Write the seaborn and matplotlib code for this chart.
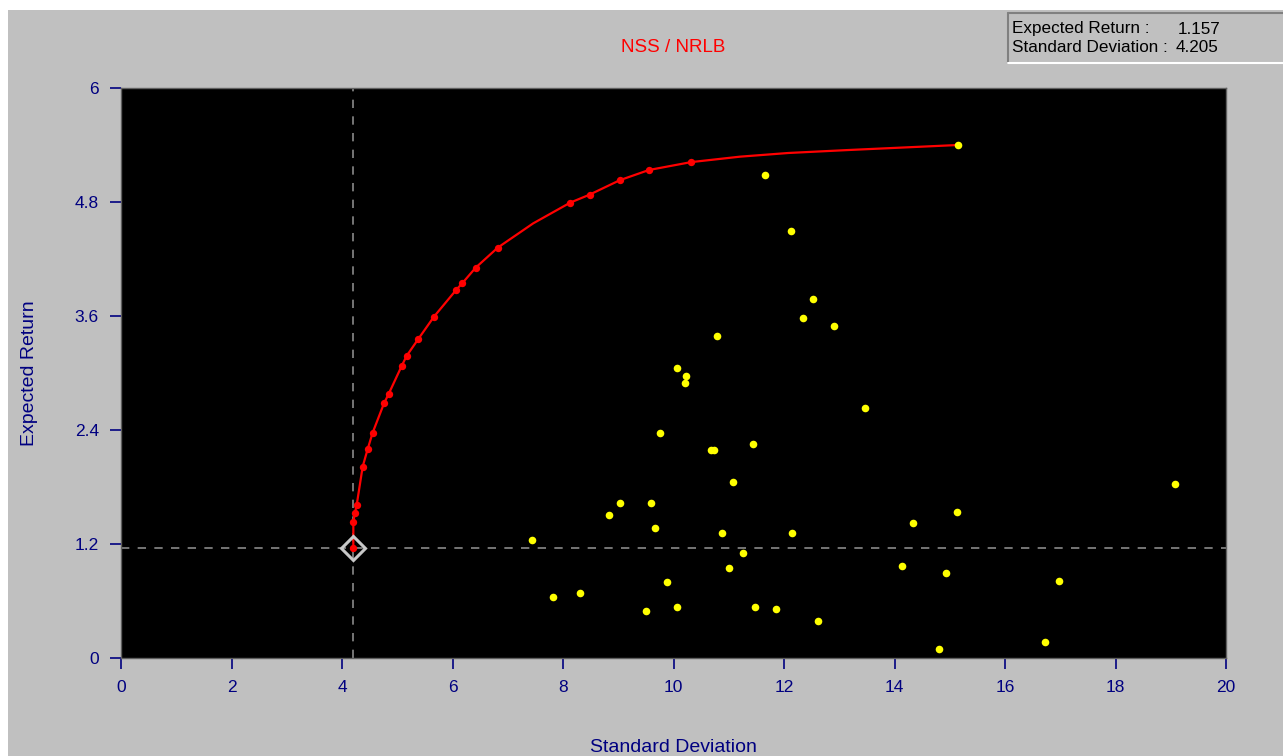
import matplotlib
matplotlib.use("Agg")
import matplotlib.pyplot as plt
import seaborn as sns
import pandas as pd
from matplotlib.patches import Rectangle

# ---- data ----
min_var_sd = 4.205
min_var_ret = 1.157

frontier_sd = [4.205, 4.205, 4.235, 4.265, 4.374, 4.465, 4.555, 4.76, 4.845, 5.08, 5.17,
               5.376, 5.665, 6.07, 6.18, 6.42, 6.82, 8.13, 8.48, 9.03, 9.556, 10.32]
frontier_ret = [1.157, 1.435, 1.53, 1.607, 2.014, 2.2, 2.372, 2.68, 2.78, 3.074, 3.18,
                3.354, 3.593, 3.877, 3.947, 4.109, 4.32, 4.793, 4.877, 5.03, 5.137, 5.22]
# unmarked points of the frontier line (between dots and up to the last asset)
line_extra_sd = [7.46, 11.2, 12.08, 13.16, 14.4, 15.15]
line_extra_ret = [4.575, 5.277, 5.316, 5.347, 5.38, 5.40]

asset_sd = [15.15, 11.65, 12.13, 12.53, 12.35, 12.90, 10.78, 10.06, 10.23, 10.20, 13.46,
            9.76, 10.67, 10.73, 11.43, 11.07, 9.04, 9.59, 8.83, 9.67, 10.87, 12.15,
            7.43, 11.25, 11.01, 9.88, 7.81, 8.31, 9.50, 10.06, 11.48, 11.86, 12.62,
            14.80, 15.14, 14.33, 14.13, 14.94, 19.07, 16.97, 16.72]
asset_ret = [5.40, 5.08, 4.49, 3.78, 3.58, 3.49, 3.39, 3.05, 2.965, 2.895, 2.63,
             2.37, 2.19, 2.19, 2.25, 1.85, 1.63, 1.63, 1.51, 1.37, 1.32, 1.32,
             1.24, 1.11, 0.95, 0.80, 0.64, 0.68, 0.49, 0.54, 0.54, 0.52, 0.39,
             0.10, 1.54, 1.42, 0.97, 0.90, 1.83, 0.81, 0.17]

x_ticks = [0, 2, 4, 6, 8, 10, 12, 14, 16, 18, 20]
y_ticks = [0, 1.2, 2.4, 3.6, 4.8, 6]
y_tick_labels = ["0", "1.2", "2.4", "3.6", "4.8", "6"]

title = "NSS / NRLB"
x_label = "Standard Deviation"
y_label = "Expected Return"

# ---- figure ----
sns.set_style("white")
plt.rcParams['font.family'] = ['Liberation Sans', 'DejaVu Sans']

W, H = 1283, 756
fig = plt.figure(figsize=(W / 100, H / 100), dpi=100, facecolor="white")
# gray window background (white margin at top and left)
fig.patches.append(Rectangle((8 / W, 0), 1 - 8 / W, (H - 10) / H, transform=fig.transFigure,
                             facecolor="#C0C0C0", edgecolor="none", zorder=-10))

ax = fig.add_axes([121 / W, (H - 658) / H, (1226 - 121) / W, (658 - 88) / H])
ax.set_facecolor("black")
ax.set_zorder(1)

navy = "#000080"

df_front = pd.DataFrame({"sd": frontier_sd + line_extra_sd,
                         "ret": frontier_ret + line_extra_ret}).sort_values("sd", kind="stable")
df_dots = pd.DataFrame({"sd": frontier_sd, "ret": frontier_ret})
df_assets = pd.DataFrame({"sd": asset_sd, "ret": asset_ret})

# crosshair
ax.axvline(min_var_sd, color="#8a8a8a", lw=1.2, ls=(0, (5, 5)), zorder=1)
ax.axhline(min_var_ret, color="#8a8a8a", lw=1.2, ls=(0, (5, 5)), zorder=1)

sns.lineplot(data=df_front, x="sd", y="ret", sort=False, color="#FF0000", lw=1.6,
             ax=ax, zorder=3, estimator=None)
sns.scatterplot(data=df_dots, x="sd", y="ret", color="#FF0000", s=28, linewidth=0,
                ax=ax, zorder=4)
sns.scatterplot(data=df_assets, x="sd", y="ret", color="#FFFF00", s=30, linewidth=0,
                ax=ax, zorder=4)
# minimum variance marker
ax.plot([min_var_sd], [min_var_ret], marker="D", markersize=12, markerfacecolor="none",
        markeredgecolor="#C8C8C8", markeredgewidth=2.2, zorder=5)

ax.set_xlim(0, 20)
ax.set_ylim(0, 6)
ax.set_xticks(x_ticks)
ax.set_xticklabels([str(t) for t in x_ticks])
ax.set_yticks(y_ticks)
ax.set_yticklabels(y_tick_labels)
ax.tick_params(axis="both", colors=navy, labelcolor=navy, labelsize=12.5,
               length=8, width=1.2, direction="out", pad=8,
               bottom=True, left=True)
for s in ax.spines.values():
    s.set_color("#606060")
    s.set_linewidth(1)

ax.set_xlabel("")
ax.set_ylabel("")
fig.text((121 + 1226) / 2 / W, 1 - 748 / H, x_label, color=navy, fontsize=14,
         ha="center", va="center")
fig.text(30 / W, 1 - 373 / H, y_label, color=navy, fontsize=14, rotation=90,
         ha="center", va="center")
fig.text(673 / W, 1 - 47 / H, title, color="#FF0000", fontsize=13.5, ha="center", va="center")

# info box (top right)
bx0, bx1, by0, by1 = 1008, 1283, 13, 63
fig.patches.append(Rectangle((bx0 / W, 1 - by1 / H), (bx1 - bx0) / W, (by1 - by0) / H,
                             transform=fig.transFigure, facecolor="#C0C0C0",
                             edgecolor="none", zorder=-5))
fig.add_artist(plt.Line2D([bx0 / W, bx0 / W], [1 - by1 / H, 1 - by0 / H],
                          transform=fig.transFigure, color="#808080", lw=1.5))
fig.add_artist(plt.Line2D([bx0 / W, 1], [1 - by0 / H, 1 - by0 / H],
                          transform=fig.transFigure, color="#808080", lw=1.5))
fig.add_artist(plt.Line2D([bx0 / W, 1], [1 - by1 / H, 1 - by1 / H],
                          transform=fig.transFigure, color="white", lw=1.5))
fig.text(1012 / W, 1 - 29 / H, "Expected Return :", color="black", fontsize=12.3,
         ha="left", va="center")
fig.text(1178 / W, 1 - 29 / H, f"{min_var_ret:.3f}", color="black", fontsize=12.3,
         ha="left", va="center")
fig.text(1012 / W, 1 - 48 / H, "Standard Deviation :", color="black", fontsize=12.3,
         ha="left", va="center")
fig.text(1176 / W, 1 - 48 / H, f"{min_var_sd:.3f}", color="black", fontsize=12.3,
         ha="left", va="center")

fig.savefig("out.png", dpi=100, facecolor=fig.get_facecolor())
